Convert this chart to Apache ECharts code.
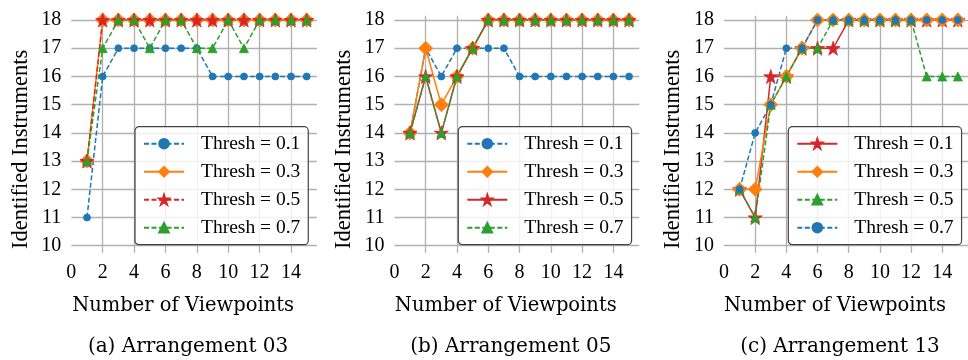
<!DOCTYPE html>
<html>
<head>
<meta charset="utf-8">
<title>Identified Instruments vs Number of Viewpoints</title>
<style>html,body{margin:0;padding:0;background:#fff;}</style>
</head>
<body>
<div id="main" style="width:968px;height:360px"></div>
<script src="https://cdn.jsdelivr.net/npm/echarts@6/dist/echarts.min.js"></script>
<script>
// number of viewpoints on the x axis
var viewpoints = [1, 2, 3, 4, 5, 6, 7, 8, 9, 10, 11, 12, 13, 14, 15];

// Arrangement 03
var arr03_t01 = [11, 16, 17, 17, 17, 17, 17, 17, 16, 16, 16, 16, 16, 16, 16];
var arr03_t03 = [13, 18, 18, 18, 18, 18, 18, 18, 18, 18, 18, 18, 18, 18, 18];
var arr03_t05 = [13, 18, 18, 18, 18, 18, 18, 18, 18, 18, 18, 18, 18, 18, 18];
var arr03_t07 = [13, 17, 18, 18, 17, 18, 18, 17, 17, 18, 17, 18, 18, 18, 18];

// Arrangement 05
var arr05_t01 = [14, 17, 16, 17, 17, 17, 17, 16, 16, 16, 16, 16, 16, 16, 16];
var arr05_t03 = [14, 17, 15, 16, 17, 18, 18, 18, 18, 18, 18, 18, 18, 18, 18];
var arr05_t05 = [14, 16, 14, 16, 17, 18, 18, 18, 18, 18, 18, 18, 18, 18, 18];
var arr05_t07 = [14, 16, 14, 16, 17, 18, 18, 18, 18, 18, 18, 18, 18, 18, 18];

// Arrangement 13
var arr13_t01 = [12, 11, 16, 16, 17, 17, 17, 18, 18, 18, 18, 18, 18, 18, 18];
var arr13_t03 = [12, 12, 15, 16, 17, 18, 18, 18, 18, 18, 18, 18, 18, 18, 18];
var arr13_t05 = [12, 11, 15, 16, 17, 17, 18, 18, 18, 18, 18, 18, 16, 16, 16];
var arr13_t07 = [12, 14, 15, 17, 17, 18, 18, 18, 18, 18, 18, 18, 18, 18, 18];

var captions = ['(a) Arrangement 03', '(b) Arrangement 05', '(c) Arrangement 13'];
var xName = 'Number of Viewpoints';
var yName = 'Identified Instruments';

var BLUE = '#1f77b4', ORANGE = '#ff7f0e', GREEN = '#2ca02c', RED = '#d62728';
var STAR = 'path://M0,-10L2.245,-3.09L9.511,-3.09L3.633,1.18L5.878,8.09L0,3.82L-5.878,8.09L-3.633,1.18L-9.511,-3.09L-2.245,-3.09Z';
var CIRCLE = {symbol: 'circle', size: 7, color: BLUE};
var DIAMOND = {symbol: 'diamond', size: 14, color: ORANGE};
var STARM = {symbol: STAR, size: 14, color: RED};
var TRI = {symbol: 'triangle', size: 9, color: GREEN};

var panels = [
  {left: 71.3, width: 245.6, legendLeft: 135, shift: 22, series: [
    {label: 'Thresh = 0.1', data: arr03_t01, m: CIRCLE, dashed: true},
    {label: 'Thresh = 0.3', data: arr03_t03, m: DIAMOND, dashed: false},
    {label: 'Thresh = 0.5', data: arr03_t05, m: STARM, dashed: true},
    {label: 'Thresh = 0.7', data: arr03_t07, m: TRI, dashed: true}
  ]},
  {left: 394.4, width: 244.8, legendLeft: 458.3, shift: 22, series: [
    {label: 'Thresh = 0.1', data: arr05_t01, m: CIRCLE, dashed: true},
    {label: 'Thresh = 0.3', data: arr05_t03, m: DIAMOND, dashed: false},
    {label: 'Thresh = 0.5', data: arr05_t05, m: STARM, dashed: false},
    {label: 'Thresh = 0.7', data: arr05_t07, m: TRI, dashed: true}
  ]},
  {left: 724, width: 244, legendLeft: 788.3, shift: 22, series: [
    {label: 'Thresh = 0.1', data: arr13_t01, m: STARM, dashed: false},
    {label: 'Thresh = 0.3', data: arr13_t03, m: DIAMOND, dashed: false},
    {label: 'Thresh = 0.5', data: arr13_t05, m: TRI, dashed: true},
    {label: 'Thresh = 0.7', data: arr13_t07, m: CIRCLE, dashed: true}
  ]}
];

var SERIF = "'Liberation Serif', 'Times New Roman', serif";
var CAPFONT = "'DejaVu Serif', serif";
var labelOf = {};
var option = {
  animation: false,
  backgroundColor: '#fff',
  grid: [], xAxis: [], yAxis: [], series: [], legend: [], title: []
};

panels.forEach(function (p, i) {
  option.grid.push({left: p.left, width: p.width, top: 15.8, height: 237, containLabel: false});
  option.xAxis.push({
    type: 'value', gridIndex: i, min: 0, max: 15.65, interval: 2,
    name: xName, nameLocation: 'middle', nameGap: 43,
    nameTextStyle: {fontFamily: CAPFONT, fontSize: 19.5, color: '#000', padding: [0, p.shift, 0, 0]},
    axisLine: {show: false}, axisTick: {show: false},
    axisLabel: {showMaxLabel: false, margin: 10, color: '#000', fontFamily: SERIF, fontSize: 20},
    splitLine: {show: true, showMinLine: false, showMaxLine: false, lineStyle: {color: '#b0b0b0', width: 1.3}}
  });
  option.yAxis.push({
    type: 'value', gridIndex: i, min: 9.75, max: 18.15, minInterval: 1, maxInterval: 1,
    name: yName, nameLocation: 'middle', nameGap: 39, nameRotate: 90,
    nameTextStyle: {fontFamily: SERIF, fontSize: 22.5, color: '#000', padding: [0, 30, 0, 0]},
    axisLine: {show: false}, axisTick: {show: false},
    axisLabel: {showMinLabel: false, showMaxLabel: false, margin: 10, color: '#000', fontFamily: SERIF, fontSize: 20},
    splitLine: {show: true, showMinLine: false, showMaxLine: false, lineStyle: {color: '#b0b0b0', width: 1.3}}
  });
  var names = [];
  p.series.forEach(function (s, j) {
    var key = 'p' + i + 's' + j;
    labelOf[key] = s.label;
    names.push(key);
    option.series.push({
      type: 'line', name: key, xAxisIndex: i, yAxisIndex: i, clip: false,
      data: viewpoints.map(function (v, k) { return [v, s.data[k]]; }),
      symbol: s.m.symbol, symbolSize: s.m.size, showAllSymbol: true,
      itemStyle: {color: s.m.color, borderColor: s.m.color, borderWidth: 0.8},
      lineStyle: {color: s.m.color, width: 1.5, type: s.dashed ? [5, 2.5] : 'solid'},
      emphasis: {disabled: true}
    });
  });
  option.legend.push({
    data: names, orient: 'vertical', left: p.legendLeft, top: 126.7,
    itemWidth: 40, itemHeight: 12, itemGap: 8, padding: [7, 8, 7, 8],
    backgroundColor: 'rgba(255,255,255,0.82)', borderColor: '#444', borderWidth: 1.2, borderRadius: 4,
    selectedMode: false,
    formatter: function (n) { return labelOf[n]; },
    textStyle: {fontFamily: SERIF, fontSize: 19.5, color: '#000', padding: [0, 0, 0, 12]}
  });
  option.title.push({
    text: captions[i], left: p.left + p.width / 2 - 11, top: 332, textAlign: 'center',
    textStyle: {fontFamily: CAPFONT, fontSize: 20, fontWeight: 'normal', color: '#000'}
  });
});

var chart = echarts.init(document.getElementById('main'), null, {renderer: 'canvas'});
chart.setOption(option);
</script>
</body>
</html>
